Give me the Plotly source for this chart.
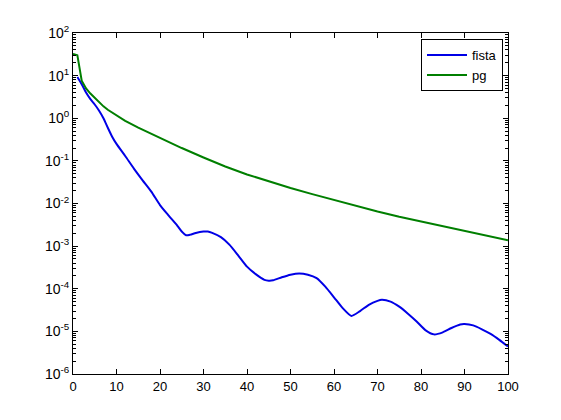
import plotly.graph_objects as go

fista_x = [1, 2, 3, 4, 5, 6, 7, 8, 9, 10, 12, 14, 16, 18, 20, 22, 24, 25, 26, 27, 28, 30, 31, 32,
           34, 36, 38, 40, 42, 44, 45, 46, 48, 50, 52, 54, 56, 58, 60, 62, 64, 66, 68, 70, 71,
           73, 75, 77, 79, 81, 83, 85, 87, 89, 90, 92, 94, 96, 98, 100]
fista_y = [9.3, 6.3, 4.0, 2.8, 2.1, 1.5, 1.0, 0.60, 0.37, 0.25, 0.13, 0.066, 0.035, 0.019,
           0.0092, 0.0052, 0.0030, 0.0022, 0.0018, 0.00186, 0.0020, 0.0022, 0.0022, 0.00204,
           0.00162, 0.00107, 6.0e-4, 3.3e-4, 2.2e-4, 1.62e-4, 1.55e-4, 1.58e-4, 1.86e-4,
           2.14e-4, 2.29e-4, 2.14e-4, 1.78e-4, 1.12e-4, 6.3e-5, 3.5e-5, 2.3e-5, 3.0e-5,
           4.2e-5, 5.2e-5, 5.5e-5, 5.0e-5, 3.8e-5, 2.6e-5, 1.7e-5, 1.07e-5, 8.5e-6, 9.5e-6,
           1.2e-5, 1.45e-5, 1.48e-5, 1.38e-5, 1.12e-5, 8.7e-6, 6.3e-6, 4.4e-6]

pg_x = [0, 1, 2, 3, 4, 5, 6, 7, 8, 10, 12, 15, 18, 20, 25, 30, 35, 40, 45, 50, 55, 60,
        65, 70, 75, 80, 85, 90, 95, 100]
pg_y = [32.4, 30.2, 7.6, 5.0, 3.8, 3.0, 2.4, 1.9, 1.58, 1.15, 0.87, 0.60, 0.43, 0.35, 0.20,
        0.12, 0.074, 0.048, 0.0327, 0.0232, 0.0166, 0.012, 0.0087, 0.0065, 0.0049, 0.0038,
        0.0030, 0.0023, 0.0018, 0.00138]

x_ticks = [0, 10, 20, 30, 40, 50, 60, 70, 80, 90, 100]
y_exponents = [-6, -5, -4, -3, -2, -1, 0, 1, 2]
y_ticks = [10.0 ** e for e in y_exponents]
y_ticktext = ["10<sup>%d</sup>" % e for e in y_exponents]
y_minor = [m * 10.0 ** e for e in y_exponents[:-1] for m in range(2, 10)]

family = "Liberation Sans, Arial, sans-serif"
font = dict(family=family, size=13, color="black")

fig = go.Figure()
fig.add_trace(go.Scatter(x=fista_x, y=fista_y, mode="lines", name="fista",
                         line=dict(color="#0000E6", width=2, shape="spline", smoothing=0.6)))
fig.add_trace(go.Scatter(x=pg_x, y=pg_y, mode="lines", name="pg",
                         line=dict(color="#007F00", width=2)))

fig.update_layout(
    width=561, height=420,
    margin=dict(l=65, r=61, t=25, b=54),
    paper_bgcolor="white", plot_bgcolor="white",
    font=font,
    showlegend=True,
    legend=dict(x=0.80, xanchor="left", y=0.982, yanchor="top",
                bgcolor="white", bordercolor="black", borderwidth=1,
                font=dict(family=family, size=13, color="black"),
                tracegroupgap=0, itemwidth=40),
)
fig.update_xaxes(range=[0, 100], tickvals=x_ticks, ticks="inside", ticklen=5,
                 showline=True, linecolor="black", linewidth=1, mirror="ticks",
                 showgrid=False, zeroline=False, tickfont=font, tickcolor="black",
                 automargin=False)
fig.update_yaxes(type="log", range=[-6, 2], tickvals=y_ticks, ticktext=y_ticktext,
                 ticks="inside", ticklen=5,
                 showline=True, linecolor="black", linewidth=1, mirror="ticks",
                 showgrid=False, zeroline=False,
                 tickfont=dict(family=family, size=14, color="black"), tickcolor="black",
                 automargin=False,
                 minor=dict(tickmode="array", tickvals=y_minor, ticks="inside", ticklen=3,
                            tickcolor="black", showgrid=False))

fig.write_html("out.html")
